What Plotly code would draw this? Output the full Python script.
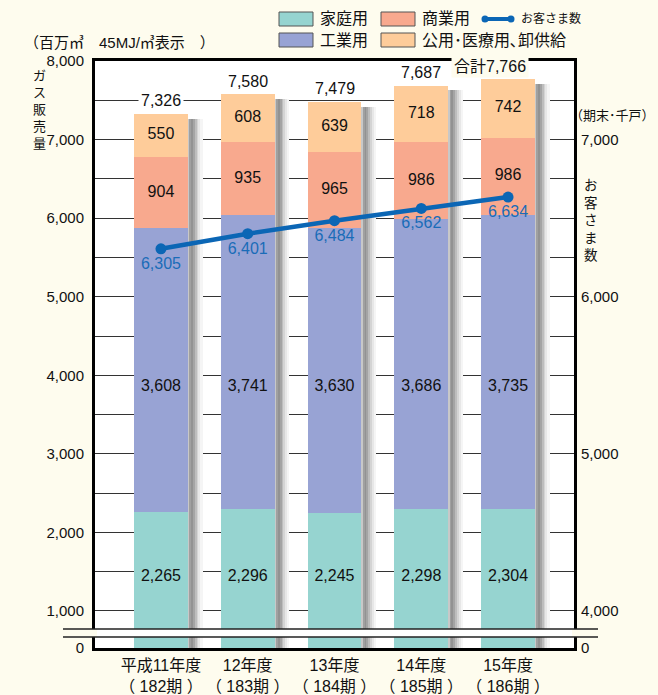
import numpy as np
import plotly.graph_objects as go

# ---------------- data ----------------
years = ["平成11年度", "12年度", "13年度", "14年度", "15年度"]
periods = ["（ 182期 ）", "（ 183期 ）", "（ 184期 ）", "（ 185期 ）", "（ 186期 ）"]
household = [2265, 2296, 2245, 2298, 2304]      # 家庭用
industrial = [3608, 3741, 3630, 3686, 3735]     # 工業用
commercial = [904, 935, 965, 986, 986]          # 商業用
public = [550, 608, 639, 718, 742]              # 公用・医療用、卸供給
totals = [7326, 7580, 7479, 7687, 7766]         # 合計
customers = [6305, 6401, 6484, 6562, 6634]      # お客さま数（期末・千戸）

left_ticks = [1000, 2000, 3000, 4000, 5000, 6000, 7000, 8000]
right_ticks = [4000, 5000, 6000, 7000]

# ---------------- style ----------------
BG = "#FEFCEE"
C_HOME = "#96D4D0"
C_IND = "#98A3D4"
C_COM = "#F8A98E"
C_PUB = "#FECC9A"
C_LINE = "#0B66B5"
FONT = "Liberation Sans, Arial, Noto Sans CJK JP, sans-serif"

Y_MIN, Y_MAX = 529, 8000          # left axis visible range (broken axis; bottom labelled 0)
R_MIN = 4000 + (Y_MIN - 1000) / 2  # matching right axis range
R_MAX = 4000 + (Y_MAX - 1000) / 2
BAR_W = 0.622

x = np.arange(len(years))
home = np.array(household)
ind = np.array(industrial)
com = np.array(commercial)
pub = np.array(public)
tot = np.array(totals)

fig = go.Figure()

# shadows to the right of each bar
shadow_cols = ["#c8c8c8", "#a0a0a0", "#929292", "#a4a4a4", "#bdbdbd", "#d4d4d4", "#e7e7e7", "#f5f5f5"]
SW = 0.021
for i, c in enumerate(shadow_cols):
    fig.add_trace(go.Bar(x=x, y=tot - 60, base=0, width=SW, offset=BAR_W / 2 + i * SW,
                         marker=dict(color=c, line=dict(width=0)), showlegend=False,
                         hoverinfo="skip"))

# stacked segments with explicit bases
bases = [np.zeros(5), home, home + ind, home + ind + com]
segs = [(home, C_HOME, "家庭用"), (ind, C_IND, "工業用"), (com, C_COM, "商業用"), (pub, C_PUB, "公用・医療用、卸供給")]
for (vals, col, name), b in zip(segs, bases):
    fig.add_trace(go.Bar(x=x, y=vals, base=b, width=BAR_W, offset=-BAR_W / 2, name=name,
                         marker=dict(color=col, line=dict(width=0)), showlegend=False))

# segment value labels
fmt = lambda arr: [f"{v:,}" for v in arr]
lab_y = [
    (np.full(5, 1430.0), home),
    (np.full(5, 3850.0), ind),
    (home + ind + com / 2, com),
    (home + ind + com + pub / 2, pub),
]
for ys, vals in lab_y:
    fig.add_trace(go.Scatter(x=x, y=ys, mode="text", text=fmt(vals),
                             textfont=dict(family=FONT, size=16, color="#111"),
                             showlegend=False, hoverinfo="skip"))

# customers line
fig.add_trace(go.Scatter(x=x, y=customers, yaxis="y2", mode="lines+markers+text",
                         line=dict(color=C_LINE, width=4.5),
                         marker=dict(color=C_LINE, size=11),
                         text=fmt(customers), textposition="bottom center",
                         textfont=dict(family=FONT, size=16, color="#1A6CB8"),
                         showlegend=False, name="お客さま数"))

# totals
for i, t in enumerate(totals):
    last = i == len(totals) - 1
    fig.add_annotation(x=x[i], y=t, yref="y", text=("合計" if last else "") + f"{t:,}",
                       showarrow=False, yshift=13, xshift=-18 if last else 0,
                       xanchor="center", yanchor="middle",
                       font=dict(family=FONT, size=16, color="#111"),
                       bgcolor=BG if last else "white", borderpad=2)

fig.update_layout(
    width=658, height=695,
    margin=dict(l=95, r=84, t=61, b=47),
    paper_bgcolor=BG, plot_bgcolor="white",
    barmode="overlay", bargap=0,
    font=dict(family=FONT, size=15, color="#111"),
    xaxis=dict(range=[-0.76, 4.76], tickvals=list(x),
               ticktext=[f"{a}<br>{b}" for a, b in zip(years, periods)],
               showline=True, mirror=True, linewidth=3, linecolor="black",
               showgrid=False, zeroline=False, ticks="", automargin=False,
               ticklabelstandoff=1,
               tickfont=dict(size=16, family=FONT)),
    yaxis=dict(range=[Y_MIN, Y_MAX],
               tickvals=[Y_MIN] + list(range(1000, 8001, 500)),
               ticktext=["0"] + [f"{v:,}" if v in left_ticks else "" for v in range(1000, 8001, 500)],
               showline=True, mirror=True, linewidth=3, linecolor="black",
               showgrid=True, gridcolor="#333", gridwidth=1.3, zeroline=False,
               ticks="", ticklabelstandoff=5, automargin=False,
               tickfont=dict(size=15, family=FONT)),
    yaxis2=dict(range=[R_MIN, R_MAX], overlaying="y", side="right",
                tickvals=[R_MIN] + right_ticks,
                ticktext=["0"] + [f"{v:,}" for v in right_ticks],
                showgrid=False, zeroline=False, showline=False, ticks="",
                ticklabelstandoff=6, automargin=False,
                tickfont=dict(size=15, family=FONT)),
)

# axis break band
px2x = lambda p: (p - 95) / 479
px2y = lambda p: (648 - p) / 587
fig.add_shape(type="rect", xref="paper", yref="paper", x0=px2x(63), x1=px2x(598),
              y0=px2y(637), y1=px2y(629), fillcolor=BG, line=dict(width=0), layer="above")
fig.add_shape(type="rect", xref="paper", yref="paper", x0=px2x(97), x1=px2x(572),
              y0=px2y(637), y1=px2y(629), fillcolor="white", line=dict(width=0), layer="above")
for yy in (629, 637):
    fig.add_shape(type="line", xref="paper", yref="paper", x0=px2x(63), x1=px2x(598),
                  y0=px2y(yy), y1=px2y(yy), line=dict(color="#222", width=1.5), layer="above")


def note(px, py, text, size, xanchor="center", yanchor="middle"):
    fig.add_annotation(xref="paper", yref="paper", x=px2x(px), y=px2y(py),
                       xanchor=xanchor, yanchor=yanchor, text=text, showarrow=False,
                       borderpad=0, font=dict(family=FONT, size=size, color="#111"))


# titles / units
note(23, 43, "（百万㎥　45MJ/㎥表示　）", 15, "left")
note(39, 67, "<br>".join("ガス販売量"), 13, "center", "top")
note(612, 116, "（期末･千戸）", 13)
note(591, 177, "<br>".join("お客さま数"), 13.5, "center", "top")

# manual legend
leg = [
    (279, 19, C_HOME, "家庭用"), (381, 19, C_COM, "商業用"),
    (279, 40, C_IND, "工業用"), (381, 40, C_PUB, "公用･医療用､卸供給"),
]
for bx, cy, col, lab in leg:
    fig.add_shape(type="rect", xref="paper", yref="paper", x0=px2x(bx), x1=px2x(bx + 34),
                  y0=px2y(cy + 7), y1=px2y(cy - 7), fillcolor=col,
                  line=dict(color="#555", width=1))
    note(bx + 40, cy, lab, 16, "left")
fig.add_shape(type="line", xref="paper", yref="paper", x0=px2x(485), x1=px2x(511),
              y0=px2y(19), y1=px2y(19), line=dict(color=C_LINE, width=4))
for cx in (485, 511):
    fig.add_shape(type="circle", xref="paper", yref="paper", x0=px2x(cx - 3.5), x1=px2x(cx + 3.5),
                  y0=px2y(19 + 3.5), y1=px2y(19 - 3.5), fillcolor=C_LINE, line=dict(width=0))
note(520, 19, "お客さま数", 12, "left")

fig.write_html("out.html")
